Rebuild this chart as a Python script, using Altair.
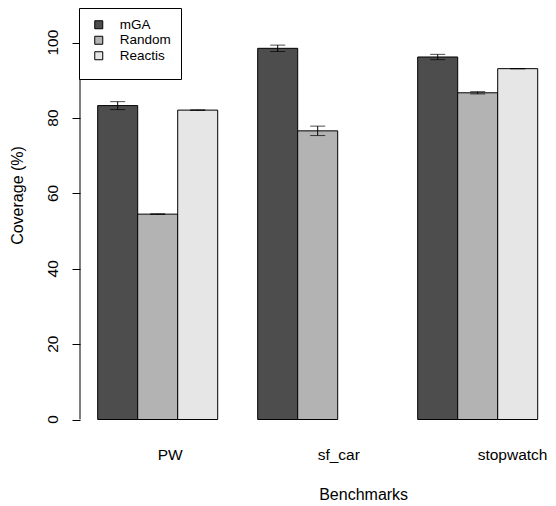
import altair as alt
import pandas as pd

benchmarks = ["PW", "sf_car", "stopwatch"]
series = ["mGA", "Random", "Reactis"]
mga = [83.3, 98.5, 96.2]
mga_err = [1.05, 0.85, 0.7]
rnd = [54.5, 76.6, 86.7]
rnd_err = [0.1, 1.25, 0.3]
reactis = [82.1, None, 93.1]
reactis_err = [0.08, None, 0.05]
colors = ["#4D4D4D", "#B3B3B3", "#E6E6E6"]
y_ticks = [0, 20, 40, 60, 80, 100]

rows = []
for s, vals, errs in zip(series, [mga, rnd, reactis], [mga_err, rnd_err, reactis_err]):
    for b, v, e in zip(benchmarks, vals, errs):
        if v is None:
            continue
        rows.append({"benchmark": b, "series": s, "value": v, "lo": v - e, "hi": v + e})
df = pd.DataFrame(rows)
ticks_df = pd.DataFrame({"tick": y_ticks})

font = "Liberation Sans"

xaxis = alt.Axis(title="Benchmarks", domain=False, ticks=False, tickSize=0, labelAngle=0,
                 labelAlign="left", labelBaseline="alphabetic", labelPadding=39.5,
                 labelFontSize=15.5, labelFont=font, labelColor="black",
                 titleX=238.7, titleY=79.5, titleAlign="left", titleBaseline="alphabetic",
                 titleAnchor="start", titleFontSize=16, titleFontWeight="normal",
                 titleFont=font, titleColor="black")
xscale = alt.Scale(domain=benchmarks, paddingInner=0.25, paddingOuter=0.0875, align=0.632)
xo = alt.XOffset("series:N", scale=alt.Scale(domain=series, paddingInner=0, paddingOuter=0))

yaxis = alt.Axis(title="Coverage (%)", values=y_ticks, domain=False, grid=False, tickSize=8,
                 tickColor="black", tickWidth=1, labels=False,
                 titleAngle=270, titleAlign="center", titleBaseline="middle",
                 titleX=-63, titleY=187, titleFontSize=16, titleFontWeight="normal",
                 titleFont=font, titleColor="black")
yscale = alt.Scale(domain=[0, 109.2], nice=False, zero=True)

x_enc = alt.X("benchmark:N", scale=xscale, axis=xaxis)

bars = alt.Chart(df).mark_bar(stroke="black", strokeWidth=1).encode(
    x=x_enc,
    xOffset=xo,
    y=alt.Y("value:Q", scale=yscale, axis=yaxis),
    color=alt.Color("series:N", scale=alt.Scale(domain=series, range=colors),
                    legend=alt.Legend(title=" ", titleOrient="bottom", titleFontSize=7,
                                      titlePadding=0, orient="none", legendX=-1, legendY=0,
                                      direction="vertical", strokeColor="black",
                                      fillColor="white", padding=10, symbolOffset=3,
                                      symbolType="square", symbolSize=64,
                                      symbolStrokeColor="black", symbolStrokeWidth=1,
                                      labelFont=font, labelFontSize=13.5, labelColor="black",
                                      labelOffset=14.3, rowPadding=0.5, cornerRadius=0,
                                      symbolOpacity=1)),
)

err = alt.Chart(df).mark_rule(color="black", strokeWidth=1).encode(
    x=x_enc, xOffset=xo,
    y=alt.Y("lo:Q", scale=yscale, axis=yaxis), y2="hi:Q",
)

caps = alt.Chart(df).transform_fold(["lo", "hi"], as_=["k", "cap"]).mark_tick(
    color="black", thickness=1, size=15
).encode(
    x=x_enc, xOffset=xo,
    y=alt.Y("cap:Q", scale=yscale, axis=yaxis),
)

yline = alt.Chart(alt.Data(values=[{}])).mark_rule(color="black", strokeWidth=1).encode(
    x=alt.value(0),
    y=alt.Y(datum=y_ticks[0], scale=yscale, axis=yaxis),
    y2=alt.Y2(datum=y_ticks[-1]),
)

ylabels = alt.Chart(ticks_df).mark_text(
    angle=270, align="center", baseline="alphabetic", font=font, fontSize=15.5, color="black"
).encode(
    x=alt.value(-22.3),
    y=alt.Y("tick:Q", scale=yscale, axis=yaxis),
    text="tick:Q",
)

chart = alt.layer(bars, err, caps, yline, ylabels).properties(
    width=468, height=411.5,
    autosize=alt.AutoSizeParams(type="none"),
    padding={"left": 72, "top": 0, "right": 0, "bottom": 86},
).configure_view(stroke=None)

chart.save("out.html", embed_options={"renderer": "svg", "actions": False})
